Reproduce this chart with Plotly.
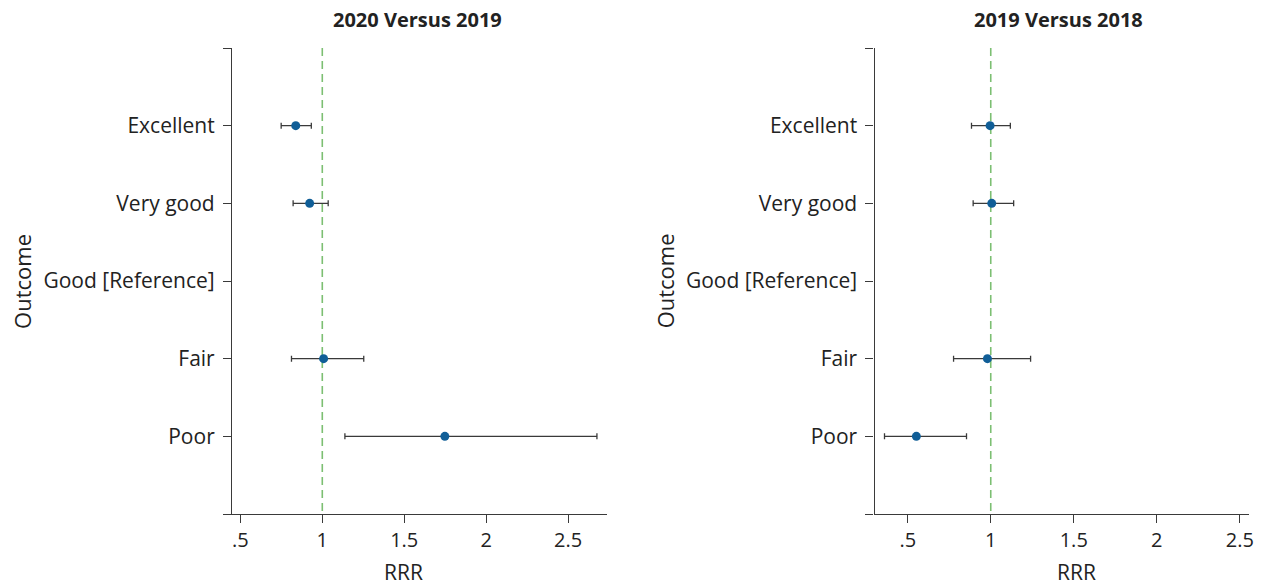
import plotly.graph_objects as go

# ---- data ----
categories = ["Excellent", "Very good", "Good [Reference]", "Fair", "Poor"]
titles = ["2020 Versus 2019", "2019 Versus 2018"]

rrr_2020 = [0.838, 0.923, None, 1.008, 1.748]
lo_2020 = [0.749, 0.822, None, 0.812, 1.138]
hi_2020 = [0.933, 1.036, None, 1.253, 2.676]

rrr_2019 = [0.996, 1.006, None, 0.980, 0.552]
lo_2019 = [0.884, 0.894, None, 0.776, 0.360]
hi_2019 = [1.118, 1.138, None, 1.240, 0.854]

x_tickvals = [0.5, 1, 1.5, 2, 2.5]
x_ticktext = [".5", "1", "1.5", "2", "2.5"]
reference_value = 1

# ---- layout constants ----
W, H = 1269, 586
FONT = "Open Sans"
AXIS_COLOR = "#3a3a3a"
TEXT_COLOR = "#222222"
MARKER_COLOR = "#105e97"
REF_COLOR = "#7cbf72"


def fx(p):
    return p / W


def fy(p):
    return 1 - p / H


panels = [
    dict(rrr=rrr_2020, lo=lo_2020, hi=hi_2020, xa="x", ya="y",
         dom=(233, 609), rng=(0.4495, 2.735), title_x=419, rrr_x=405, out_x=22),
    dict(rrr=rrr_2019, lo=lo_2019, hi=hi_2019, xa="x2", ya="y2",
         dom=(878, 1254), rng=(0.300, 2.556), title_x=1063, rrr_x=1081, out_x=668),
]

fig = go.Figure()

y_positions = list(range(1, len(categories) + 1))
y_tickvals = [0] + y_positions + [len(categories) + 1]
y_ticktext = [""] + categories + [""]

annotations = []
shapes = []
for i, p in enumerate(panels):
    ys, xs, em, ep = [], [], [], []
    for yp, r, lo, hi in zip(y_positions, p["rrr"], p["lo"], p["hi"]):
        if r is None:
            continue
        ys.append(yp)
        xs.append(r)
        em.append(r - lo)
        ep.append(hi - r)
    fig.add_trace(go.Scatter(
        x=xs, y=ys, mode="markers",
        marker=dict(color=MARKER_COLOR, size=9),
        error_x=dict(type="data", symmetric=False, array=ep, arrayminus=em,
                     color=AXIS_COLOR, thickness=1.3, width=3),
        xaxis=p["xa"], yaxis=p["ya"], showlegend=False, hoverinfo="x+y",
    ))
    shapes.append(dict(
        type="line", xref=p["xa"], yref=p["ya"],
        x0=reference_value, x1=reference_value, y0=0, y1=len(categories) + 1,
        line=dict(color=REF_COLOR, width=1.6, dash="8px,5px"), layer="below",
    ))
    annotations.append(dict(
        text="<b>" + titles[i] + "</b>", x=fx(p["title_x"]), y=fy(20),
        xref="paper", yref="paper", showarrow=False, xanchor="center", yanchor="middle",
        font=dict(family=FONT, size=20, color=TEXT_COLOR),
    ))
    annotations.append(dict(
        text="RRR", x=fx(p["rrr_x"]), y=fy(572),
        xref="paper", yref="paper", showarrow=False, xanchor="center", yanchor="middle",
        font=dict(family=FONT, size=21, color=TEXT_COLOR),
    ))
    annotations.append(dict(
        text="Outcome", x=fx(p["out_x"]), y=fy(281), textangle=-90,
        xref="paper", yref="paper", showarrow=False, xanchor="center", yanchor="middle",
        font=dict(family=FONT, size=22, color=TEXT_COLOR),
    ))

common_x = dict(
    showgrid=False, zeroline=False, showline=True, linecolor=AXIS_COLOR, linewidth=1.3,
    ticks="outside", ticklen=8, tickwidth=1.3, tickcolor=AXIS_COLOR,
    tickvals=x_tickvals, ticktext=x_ticktext,
    tickfont=dict(family=FONT, size=20, color=TEXT_COLOR),
)
common_y = dict(
    showgrid=False, zeroline=False, showline=True, linecolor=AXIS_COLOR, linewidth=1.3,
    ticks="outside", ticklen=8, tickwidth=1.3, tickcolor=AXIS_COLOR,
    tickvals=y_tickvals, ticktext=y_ticktext, range=[len(categories) + 1, 0],
    tickfont=dict(family=FONT, size=21, color=TEXT_COLOR), ticklabelstandoff=4,
)

ydom = [fy(514), fy(48)]
fig.update_layout(
    width=W, height=H,
    margin=dict(l=0, r=0, t=0, b=0),
    paper_bgcolor="white", plot_bgcolor="white",
    xaxis=dict(domain=[fx(panels[0]["dom"][0]), fx(panels[0]["dom"][1])],
               range=list(panels[0]["rng"]), anchor="y", **common_x),
    yaxis=dict(domain=ydom, anchor="x", **common_y),
    xaxis2=dict(domain=[fx(panels[1]["dom"][0]), fx(panels[1]["dom"][1])],
                range=list(panels[1]["rng"]), anchor="y2", **common_x),
    yaxis2=dict(domain=ydom, anchor="x2", **common_y),
    annotations=annotations,
    shapes=shapes,
    font=dict(family=FONT, color=TEXT_COLOR),
)

fig.write_html(
    "out.html",
    config={"displayModeBar": False},
    post_script="document.body.style.margin='0';document.body.style.padding='0';"
                "document.body.style.overflow='hidden';",
)
